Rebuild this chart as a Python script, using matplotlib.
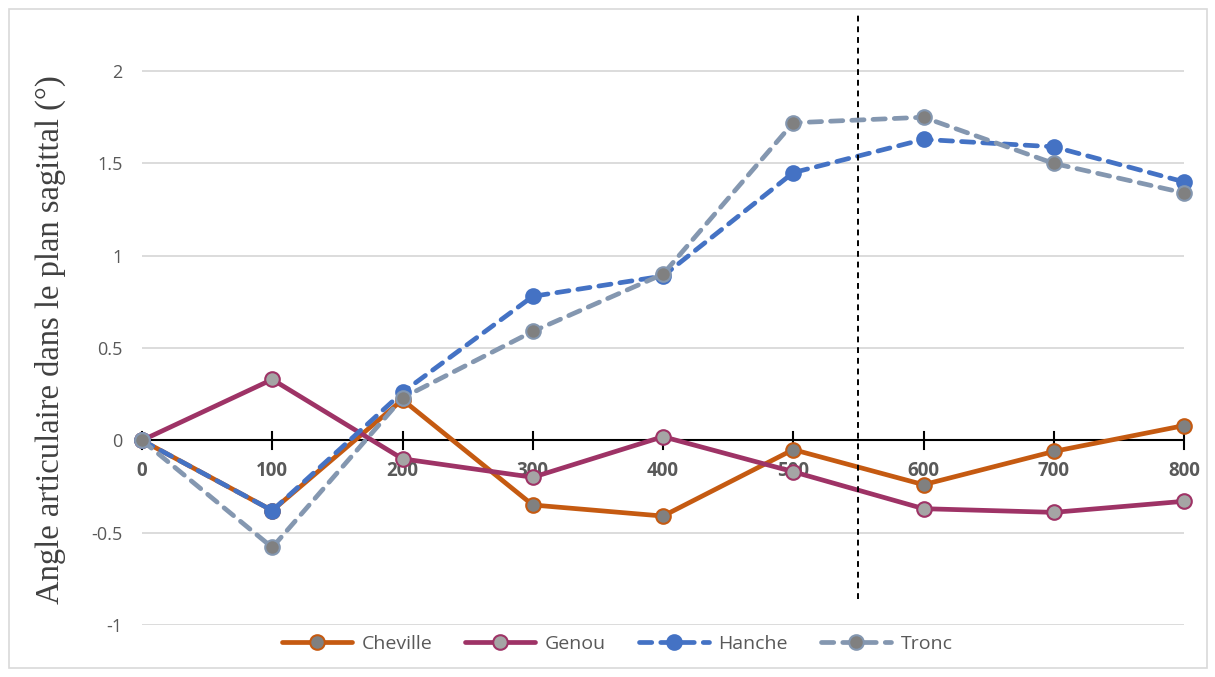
import matplotlib
matplotlib.use("Agg")
import matplotlib.pyplot as plt
from matplotlib.patches import Rectangle

x = [0, 100, 200, 300, 400, 500, 600, 700, 800]
cheville = [0, -0.38, 0.22, -0.35, -0.41, -0.05, -0.24, -0.06, 0.08]
genou = [0, 0.33, -0.10, -0.20, 0.02, -0.17, -0.37, -0.39, -0.33]
hanche = [0, -0.38, 0.26, 0.78, 0.89, 1.45, 1.63, 1.59, 1.40]
tronc = [0, -0.58, 0.23, 0.59, 0.90, 1.72, 1.75, 1.50, 1.34]
yticks = [-1, -0.5, 0, 0.5, 1, 1.5, 2]
ytick_labels = ["-1", "-0.5", "0", "0.5", "1", "1.5", "2"]
vline_x = 550
ylabel = "Angle articulaire dans le plan sagittal (°)"

W, H = 1215, 677
fig = plt.figure(figsize=(W / 100, H / 100), dpi=100)
ax = fig.add_axes([142 / W, (H - 625) / H, (1184 - 142) / W, (625 - 12) / H])
ylo, yhi = -1, 2.32
ax.set_xlim(0, 800)
ax.set_ylim(ylo, yhi)

for s in ax.spines.values():
    s.set_visible(False)

for yt in yticks:
    if yt != 0:
        ax.axhline(yt, color="#D9D9D9", lw=1.3, zorder=0)
ax.axhline(0, color="black", lw=1.5, zorder=1)
for xt in x:
    ax.plot([xt, xt], [-0.045, 0.045], color="black", lw=1.5, zorder=1, clip_on=False)

ax.set_xticks([])
ax.set_yticks(yticks)
ax.set_yticklabels(ytick_labels, fontsize=13, color="#595959", family="Open Sans")
ax.tick_params(axis="y", length=0, pad=14)
for xt in x:
    ax.text(xt, -0.165, str(xt), ha="center", va="center", fontsize=13.5,
            fontweight="bold", color="#595959", family="Open Sans")

ax.set_ylabel(ylabel, family="Liberation Serif", fontsize=23.5, color="#404040")
ax.yaxis.set_label_coords(-0.073, 0.465)

lw = 3.4
ms = 10.5
dash = (0, (2.6, 1.9))
ax.plot(x, cheville, color="#C55A11", lw=lw, marker="o", ms=ms, mfc="#808080",
        mec="#C55A11", mew=1.5, label="Cheville", zorder=3, clip_on=False,
        solid_capstyle="round")
ax.plot(x, genou, color="#9E3366", lw=lw, marker="o", ms=ms, mfc="#A5A5A5",
        mec="#9E3366", mew=1.5, label="Genou", zorder=3, clip_on=False,
        solid_capstyle="round")
ax.plot(x, hanche, color="#4472C4", lw=lw, ls=dash, marker="o", ms=ms,
        mfc="#4472C4", mec="#4472C4", mew=1.5, label="Hanche", zorder=4,
        clip_on=False, dash_capstyle="round")
ax.plot(x, tronc, color="#8497B0", lw=lw, ls=dash, marker="o", ms=ms,
        mfc="#808080", mec="#8497B0", mew=1.5, label="Tronc", zorder=5,
        clip_on=False, dash_capstyle="round")

ax.plot([vline_x, vline_x], [-0.86, yhi], color="black", lw=1.4, ls=(0, (3, 2.5)),
        zorder=6, clip_on=False)

leg = fig.legend(loc="center", bbox_to_anchor=(0.508, (H - 644) / H), ncol=4,
                 frameon=False, handlelength=3.6, columnspacing=1.7,
                 handletextpad=0.5, prop={"family": "Open Sans", "size": 14})
for t in leg.get_texts():
    t.set_color("#595959")

fig.patches.append(Rectangle((9 / W, 9 / H), (1207 - 9) / W, (668 - 9) / H,
                             transform=fig.transFigure, fill=False,
                             edgecolor="#D9D9D9", lw=1.2))

fig.savefig("out.png", dpi=100)
